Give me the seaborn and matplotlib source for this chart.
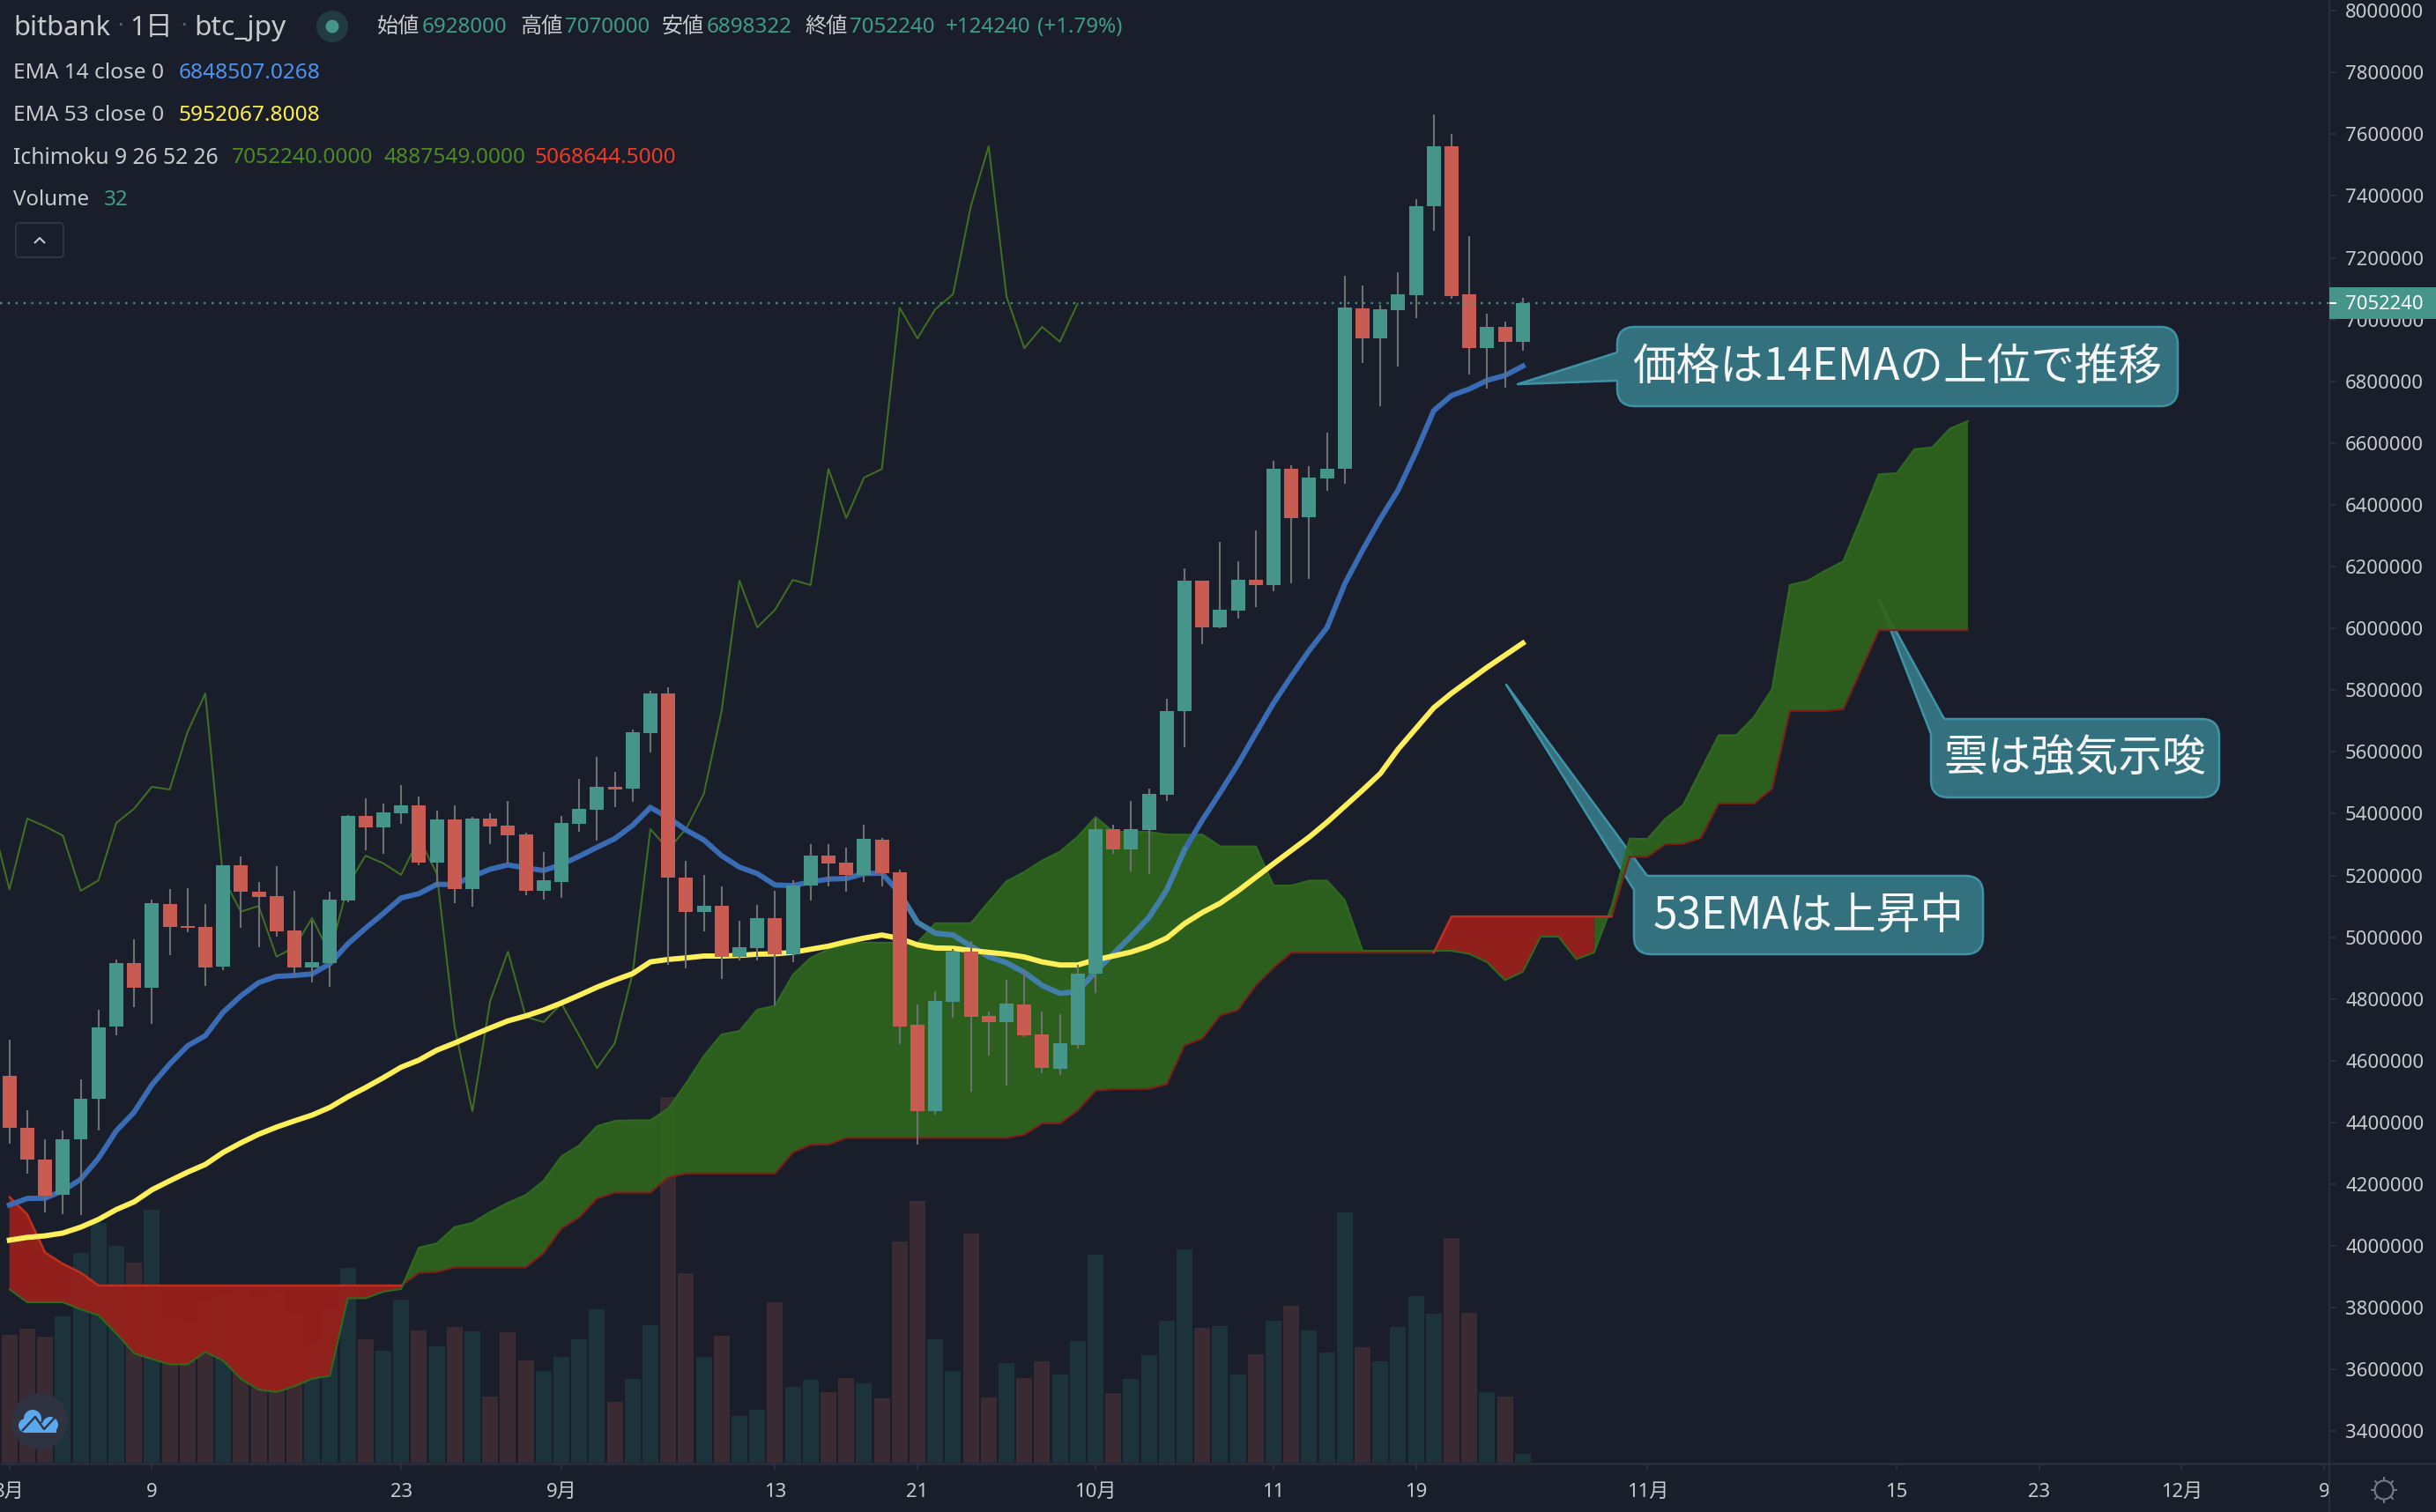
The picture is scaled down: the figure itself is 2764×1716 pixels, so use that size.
import numpy as np
import pandas as pd
import matplotlib
matplotlib.use("Agg")
import matplotlib.pyplot as plt
from matplotlib.path import Path
from matplotlib.patches import PathPatch, Circle, Rectangle, FancyBboxPatch
from matplotlib.lines import Line2D
from matplotlib.transforms import Affine2D
import seaborn as sns

# ---------- values (prices in thousand yen) ----------
open_k = [4551,4382,4281,4166,4347,4478,4710,4917,4835,5108,5036,5034,4906,5232,5147,5134,5022,4901,4917,5120,
          5393,5356,5401,5427,5241,5381,5155,5384,5361,5333,5150,5179,5367,5412,5487,5480,5662,5789,5193,5082,
          5101,4937,4965,5062,4946,5166,5264,5241,5202,5315,5209,4717,4436,4790,4953,4745,4725,4782,4685,4574,
          4650,4882,5350,5285,5347,5462,5732,6154,6003,6058,6157,6140,6516,6360,6486,6516,7036,6939,7031,7079,
          7367,7561,7082,6907,6976,6928]
high_k = [4669,4440,4347,4373,4541,4764,4927,4994,5122,5156,5159,5108,5232,5262,5179,5230,5150,5054,5147,5395,
          5450,5432,5492,5455,5409,5427,5390,5401,5441,5338,5276,5393,5513,5584,5536,5671,5798,5809,5248,5202,
          5165,5053,5105,5150,5184,5301,5301,5290,5364,5320,5218,4782,4825,4962,4988,4759,4862,4897,4759,4751,
          4910,5383,5364,5441,5481,5772,6194,6155,6279,6217,6318,6542,6528,6525,6633,7142,7110,7047,7153,7390,
          7664,7601,7270,7019,6993,7070]
low_k = [4332,4233,4110,4104,4099,4375,4681,4774,4720,4941,5015,4843,4892,5029,4969,5001,4876,4854,4840,5114,
         5282,5271,5367,5234,5162,5111,5100,5302,5239,5136,5123,5128,5341,5313,5421,5439,5598,4911,4899,5018,
         4866,4924,4924,4779,4919,5120,5165,5147,5179,5165,4655,4328,4425,4740,4500,4616,4519,4677,4560,4554,
         4639,4820,5269,5213,5204,5441,5614,5950,6000,6033,6070,6119,6147,6161,6446,6469,6860,6720,6849,7004,
         7286,7068,6823,6777,6780,6898]
close_k = [4382,4281,4163,4347,4478,4709,4917,4835,5110,5034,5030,4903,5232,5146,5131,5020,4903,4919,5122,5393,
           5356,5404,5427,5241,5381,5155,5384,5359,5329,5150,5184,5370,5416,5487,5478,5664,5789,5192,5083,5101,
           4937,4967,5062,4946,5167,5264,5239,5202,5319,5207,4710,4436,4793,4953,4742,4725,4785,4682,4576,4657,
           4882,5350,5285,5350,5464,5732,6154,6003,6060,6157,6140,6516,6357,6488,6516,7038,6939,7033,7082,7367,
           7561,7075,6907,6976,6928,7052.24]
volume = [449,471,443,514,736,840,761,702,888,503,492,563,589,607,582,600,520,415,542,684,
          434,393,573,465,409,477,461,233,458,359,322,372,434,539,214,295,483,1282,665,372,
          446,165,186,563,267,291,248,298,279,227,777,919,434,322,804,230,350,298,356,310,
          427,730,245,295,378,499,749,474,480,310,381,499,551,465,387,879,406,356,477,585,
          523,789,526,248,233,32]
ema14_k = [4133,4154,4155,4179,4216,4284,4373,4433,4522,4589,4648,4681,4757,4810,4853,4873,4876,4881,4914,4978,
           5029,5077,5127,5141,5171,5171,5197,5220,5234,5224,5216,5235,5262,5291,5319,5362,5420,5388,5347,5315,
           5264,5227,5206,5169,5167,5179,5188,5190,5206,5207,5143,5048,5013,5007,4971,4937,4917,4886,4844,4818,
           4824,4889,4946,5003,5064,5153,5283,5379,5468,5560,5660,5758,5845,5928,6002,6144,6253,6355,6448,6571,
           6705,6754,6775,6803,6819,6849]
ema53_k = [4019,4028,4033,4042,4061,4086,4118,4143,4182,4211,4239,4264,4303,4334,4362,4385,4405,4424,4449,4483,
           4513,4545,4579,4602,4634,4657,4682,4706,4729,4745,4764,4787,4812,4838,4861,4882,4920,4928,4933,4939,
           4939,4941,4945,4946,4951,4961,4971,4985,4997,5007,4996,4975,4965,4964,4957,4951,4945,4936,4920,4910,
           4910,4927,4939,4952,4971,4997,5044,5080,5110,5150,5194,5238,5281,5324,5372,5424,5476,5530,5609,5676,
           5743,5790,5832,5874,5913,5952]
span_a_k = [3860,3818,3818,3818,3795,3776,3717,3653,3634,3617,3617,3657,3629,3570,3535,3527,3546,3570,3580,3831,
            3831,3852,3861,3995,4008,4061,4075,4110,4140,4165,4211,4290,4326,4388,4405,4407,4407,4445,4526,4615,
            4685,4696,4765,4778,4878,4933,4961,4975,4982,4982,4982,4982,5045,5045,5045,5114,5181,5211,5248,5277,
            5325,5389,5341,5341,5341,5332,5332,5332,5294,5294,5294,5167,5167,5183,5183,5120,4956,4956,4956,4956,
            4956,4956,4946,4919,4861,4888,5002,5002,4929,4950,5101,5319,5318,5383,5427,5541,5654,5654,5714,5803,
            6140,6154,6187,6217,6356,6499,6502,6580,6586,6647,6671]
span_b_k = [4159,4102,3979,3942,3914,3872,3872,3872,3872,3872,3872,3872,3872,3872,3872,3872,3872,3872,3872,3872,
            3872,3872,3872,3913,3916,3931,3931,3931,3931,3931,3977,4057,4093,4154,4173,4173,4173,4222,4235,4235,
            4235,4235,4235,4235,4303,4328,4329,4350,4350,4350,4350,4350,4350,4350,4350,4350,4350,4361,4397,4397,
            4439,4503,4508,4508,4509,4524,4650,4672,4747,4764,4844,4901,4950,4950,4950,4950,4950,4950,4950,4950,
            4950,5067,5067,5067,5067,5067,5067,5067,5067,5067,5067,5260,5260,5301,5302,5321,5433,5433,5433,5481,
            5733,5733,5733,5738,5866,5994,5994,5994,5994,5994,5994]
date_ticks = [0, 8, 22, 31, 43, 51, 61, 71, 79, 92, 106, 114, 122, 130]
date_labels = ["8月", "9", "23", "9月", "13", "21", "10月", "11", "19", "11月", "15", "23", "12月", "9"]
price_ticks = list(range(3400000, 8000001, 200000))
last_price = 7052240

# ---------- colours ----------
BG = "#1a1e2b"
UP, DOWN = "#45958a", "#c85c52"
VOL_UP, VOL_DOWN = "#1c333b", "#3a2a31"
WICK = "#6f7074"
BLUE, YELLOW = "#3a6cb5", "#fff05a"
CLOUD_G, CLOUD_R = "#2e651d", "#9c201a"
TXT = "#c9cacc"
AXIS = "#2c2f3b"
TEAL = "#33717f"
TEAL_EDGE = "#3f93a8"

sns.set_theme(style="dark")
FONT = ["Noto Sans", "Noto Sans CJK JP", "DejaVu Sans"]
plt.rcParams["font.family"] = FONT

W, H = 2764, 1716
fig = plt.figure(figsize=(W / 100, H / 100), dpi=100, facecolor=BG)
rect = [0, (H - 1660) / H, 2643 / W, 1660 / H]
ax_v = fig.add_axes(rect, facecolor=BG)
ax = fig.add_axes(rect, facecolor="none", zorder=3)
px = Affine2D().scale(1, -1).translate(0, H)  # pixel positions for furniture (annotations, header)

scale = 1000.0
o, h, l, c = [np.array(a, float) * scale for a in (open_k, high_k, low_k, close_k)]
idx = np.arange(len(o))
rising = c >= o
xlim = (-0.53, 130.3)

# ---------- volume ----------
vol_df = pd.DataFrame({"i": idx, "v": volume, "dir": np.where(rising, "up", "down")})
sns.barplot(data=vol_df, x="i", y="v", hue="dir", palette={"up": VOL_UP, "down": VOL_DOWN},
            native_scale=True, dodge=False, width=0.89, legend=False, ax=ax_v, saturation=1, linewidth=0)
ax_v.set_xlim(*xlim)
ax_v.set_ylim(0, 5130)
ax_v.set_xlabel(""); ax_v.set_ylabel("")
ax_v.set_xticks([]); ax_v.set_yticks([])
for s in ax_v.spines.values():
    s.set_visible(False)

# ---------- ichimoku cloud ----------
a = np.array(span_a_k, float) * scale
b = np.array(span_b_k, float) * scale
xc = np.arange(len(a))
red_seg = ((xc <= 22) | ((xc >= 80) & (xc <= 89)))
green_seg = ((xc >= 22) & (xc <= 80)) | (xc >= 89)
ax.fill_between(xc, a, b, where=green_seg, facecolor=CLOUD_G, alpha=0.92, lw=0, zorder=2)
ax.fill_between(xc, a, b, where=red_seg, facecolor=CLOUD_R, alpha=0.92, lw=0, zorder=2)
cloud_df = pd.DataFrame({"i": xc, "a": a, "b": b})
sns.lineplot(data=cloud_df, x="i", y="b", color="#7f1f17", lw=1.5, estimator=None, ax=ax, zorder=2.1)
sns.lineplot(data=cloud_df, x="i", y="a", color="#2f6b1f", lw=1.5, estimator=None, ax=ax, zorder=2.1)
for seg in (np.arange(0, 23), np.arange(80, 91)):
    sns.lineplot(x=seg, y=b[seg], color="#c22f20", lw=1.8, estimator=None, ax=ax, zorder=2.2)

# ---------- lagging span: the closes, drawn 25 bars back ----------
lag_x = np.arange(-1, 61)
sns.lineplot(x=lag_x, y=c[24:], color="#3f6f20", lw=1.45, estimator=None, ax=ax, zorder=2.5)

# ---------- averages ----------
LINE_KW = dict(lw=4.3, estimator=None, ax=ax, solid_joinstyle="miter", solid_capstyle="projecting")
sns.lineplot(x=idx, y=np.array(ema14_k) * scale, color=BLUE, zorder=3, **LINE_KW)
seg = np.arange(50, 67)
sns.lineplot(x=seg, y=(np.array(ema14_k) * scale)[seg], color="#417fa8", zorder=3.1, **LINE_KW)
sns.lineplot(x=idx, y=np.array(ema53_k) * scale, color=YELLOW, zorder=3.2, **LINE_KW)

# ---------- candles ----------
ax.vlines(idx, l, h, color=WICK, lw=1.5, zorder=4)
ax.bar(idx, np.abs(c - o), bottom=np.minimum(o, c), width=0.79,
       color=[UP if r else DOWN for r in rising], lw=0, zorder=5)

# ---------- last price line ----------
ax.axhline(last_price, color="#3f9a8c", lw=1.6, ls=(0, (1, 3)), zorder=6)

# ---------- axes ----------
ax.set_xlim(*xlim)
ax.set_ylim(3298600, 8034500)
ax.set_xlabel(""); ax.set_ylabel("")
for s in ax.spines.values():
    s.set_visible(False)
ax.grid(False)
ax.yaxis.tick_right()
ax.set_yticks(price_ticks, [str(p) for p in price_ticks])
ax.set_xticks(date_ticks, date_labels)
ax.tick_params(axis="y", length=5.8, width=1.4, color=AXIS, labelcolor=TXT, labelsize=15.9, pad=7.2)
ax.tick_params(axis="x", length=5.8, width=1.4, color=AXIS, labelcolor=TXT, labelsize=15.9, pad=11)
ax.tick_params(axis="both", which="both", bottom=True, right=True, left=False, top=False)
for lab in ax.get_xticklabels() + ax.get_yticklabels():
    lab.set_clip_on(False)


def add_line(xs, ys, color, lw, zorder=20):
    fig.add_artist(Line2D(xs, ys, transform=px, color=color, lw=lw, zorder=zorder, solid_capstyle="butt"))


add_line([0, W], [1660.5, 1660.5], AXIS, 1.8)
add_line([2643, 2643], [0, H], AXIS, 1.4)


# ---------- callouts ----------
def callout(x0, y0, x1, y1, tail_lo, tip, tail_hi, text, r=20):
    v = [tail_hi]
    codes = [Path.MOVETO]
    def add(pts, code):
        v.extend(pts); codes.extend([code] * len(pts))
    if tail_hi[0] <= x0:  # tail sits on the left edge: keep the top-left corner
        add([(x0, y0 + r)], Path.LINETO)
        add([(x0, y0), (x0 + r, y0)], Path.CURVE3)
    add([(x1 - r, y0)], Path.LINETO)
    add([(x1, y0), (x1, y0 + r)], Path.CURVE3)
    add([(x1, y1 - r)], Path.LINETO)
    add([(x1, y1), (x1 - r, y1)], Path.CURVE3)
    add([(x0 + r, y1)], Path.LINETO)
    add([(x0, y1), (x0, y1 - r)], Path.CURVE3)
    add([tail_lo, tip], Path.LINETO)
    add([tail_hi], Path.LINETO)
    patch = PathPatch(Path(v, codes), transform=px, facecolor=TEAL, edgecolor=TEAL_EDGE, lw=1.8,
                      zorder=1.5, clip_on=False, joinstyle="round")
    ax.add_patch(patch)
    fig.text((x0 + x1) / 2 / W, 1 - ((y0 + y1) / 2 + 1) / H, text, color="#f6f7f8", fontsize=35.7,
             family=["Noto Sans CJK JP", "DejaVu Sans"], ha="center", va="center", zorder=21)


callout(1835, 371, 2471, 461, (1835, 432), (1722, 436), (1835, 400), "価格は14EMAの上位で推移")
callout(2191, 816, 2518, 905, (2191, 833), (2132, 681), (2206, 816), "雲は強気示唆")
callout(1854, 994, 2250, 1083, (1854, 1010), (1709, 777), (1869, 994), "53EMAは上昇中")


# ---------- header ----------
def t(x, y, s, color=TXT, size=17.4, **kw):
    fig.text(x / W, 1 - y / H, s, color=color, fontsize=size, ha=kw.pop("ha", "left"), va="center",
             family=FONT, zorder=25, **kw)


t(15, 32, "bitbank", size=22.3)
t(133, 30, "·", color="#666a75", size=17)
t(147, 32, "1日", size=22.3)
t(205, 30, "·", color="#666a75", size=17)
t(220, 32, "btc_jpy", size=22.8)
fig.add_artist(Circle((377, 30), 18, transform=px, facecolor="#223a41", edgecolor="none", zorder=24))
fig.add_artist(Circle((377, 30), 7.5, transform=px, facecolor="#45958a", edgecolor="none", zorder=25))
GREEN_T = "#3f9a8c"
for x_lab, lab, x_val, val in [(428, "始値", 479, "6928000"), (590, "高値", 641, "7070000"),
                               (751, "安値", 802, "6898322"), (913, "終値", 964, "7052240")]:
    t(x_lab, 31, lab)
    t(x_val, 31, val, color=GREEN_T)
t(1073, 31, "+124240", color=GREEN_T)
t(1177, 31, "(+1.79%)", color=GREEN_T)
t(15, 83, "EMA 14 close 0", size=17.6)
t(203, 83, "6848507.0268", color="#4f93f0", size=17.6)
t(15, 131, "EMA 53 close 0", size=17.6)
t(203, 131, "5952067.8008", color="#fff04d", size=17.6)
t(15, 179, "Ichimoku 9 26 52 26", size=17.8)
t(263, 179, "7052240.0000", color="#4c8a24", size=17.6)
t(435, 179, "4887549.0000", color="#4c8a24", size=17.6)
t(607, 179, "5068644.5000", color="#f03a24", size=17.6)
t(15, 227, "Volume", size=17.3)
t(118, 227, "32", color=GREEN_T)
fig.add_artist(FancyBboxPatch((18, 253), 54, 39, boxstyle="round,pad=0,rounding_size=4", transform=px,
                              facecolor="none", edgecolor="#30343f", lw=1.5, zorder=24))
add_line([39, 45, 51], [276, 270, 276], TXT, 1.5, zorder=25)

# ---------- last price tag ----------
fig.add_artist(Rectangle((2643, 326), 121, 36, transform=px, facecolor="#45958a", edgecolor="none", zorder=26))
add_line([2643, 2651], [344, 344], "white", 1.4, zorder=27)
t(2661, 345.5, "7052240", color="white", size=15.9)
fig.texts[-1].set_zorder(27)

# ---------- logo ----------
fig.add_artist(Circle((45, 1613), 32, transform=px, facecolor="#2f3240", edgecolor="none", zorder=24))
for cx, cy, rr in [(37, 1610, 10), (57, 1617, 9), (29, 1618, 8)]:
    fig.add_artist(Circle((cx, cy), rr, transform=px, facecolor="#5aa9ee", edgecolor="none", zorder=25))
fig.add_artist(Rectangle((27, 1615), 37, 11, transform=px, facecolor="#5aa9ee", edgecolor="none", zorder=25))
add_line([25, 40, 50, 63], [1624, 1608, 1622, 1608], "#2f3240", 1.7, zorder=26)

# ---------- gear ----------
fig.add_artist(Circle((2705, 1691), 10.5, transform=px, facecolor="none", edgecolor="#787b86", lw=1.5, zorder=24))
for ang in np.arange(0, 360, 45):
    ca, sa = np.cos(np.radians(ang)), np.sin(np.radians(ang))
    add_line([2705 + 10.5 * ca, 2705 + 15 * ca], [1691 + 10.5 * sa, 1691 + 15 * sa], "#787b86", 1.4, zorder=24)

fig.savefig("out.png", dpi=100, facecolor=BG)
